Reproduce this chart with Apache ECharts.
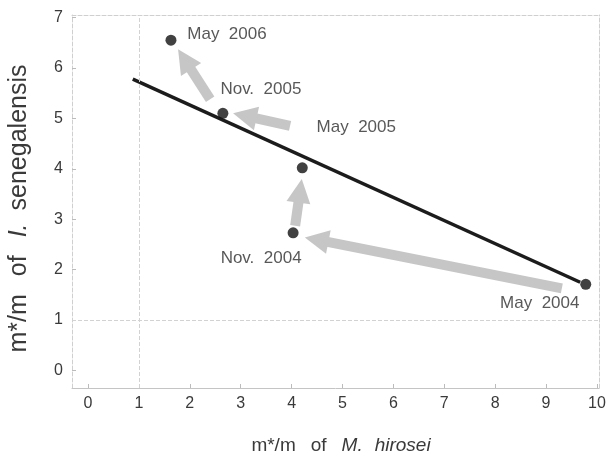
<!DOCTYPE html>
<html>
<head>
<meta charset="utf-8">
<script src="https://cdn.jsdelivr.net/npm/echarts@6/dist/echarts.min.js"></script>
<style>
html,body{margin:0;padding:0;background:#fff;}
#chart{width:608px;height:454px;}
</style>
</head>
<body>
<div id="chart"></div>
<script>
// ---- data ----
const sampleLabels = ['May  2004', 'Nov.  2004', 'May  2005', 'Nov.  2005', 'May  2006'];
const hiroseiX = [9.78, 4.03, 4.21, 2.65, 1.63];
const senegalensisY = [1.71, 2.73, 4.02, 5.10, 6.55];
const fitLineX = [0.88, 9.67];
const fitLineY = [5.78, 1.75];
const arrowTailX = [9.31, 4.07, 3.97, 2.40];
const arrowTailY = [1.63, 2.87, 4.85, 5.38];
const arrowHeadX = [4.26, 4.20, 2.85, 1.77];
const arrowHeadY = [2.64, 3.80, 5.10, 6.37];
const xTickValues = [0, 1, 2, 3, 4, 5, 6, 7, 8, 9, 10];
const yTickValues = [0, 1, 2, 3, 4, 5, 6, 7];

// ---- styles ----
const labelOffsets = [[-46, 19], [-32, 25], [54, -40], [38, -24], [56, -6]];
const FONT = '"Liberation Sans", Arial, sans-serif';
const frameLine = { color: '#cfcfcf', type: 'dashed', width: 1 };
const TXT = '#3a3a3a';
const ARROW = '#c6c6c6';
const HEAD_W = 24, HEAD_L = 24, SHAFT_INSET = 18;

const chart = echarts.init(document.getElementById('chart'));

const option = {
  animation: false,
  backgroundColor: '#fff',
  textStyle: { fontFamily: FONT },
  grid: { left: 72, right: 9, top: 15, bottom: 66, containLabel: false, outerBoundsMode: 'none' },
  xAxis: [
    {
      type: 'value', position: 'bottom', min: -0.3143, max: 10.04,
      axisLine: { show: true, onZero: false, lineStyle: { color: '#c4c4c4', width: 1 } },
      axisTick: { show: true, inside: true, length: 4, customValues: xTickValues, lineStyle: { color: '#bbb' } },
      axisLabel: { customValues: xTickValues, fontSize: 16, color: TXT, margin: 8, fontFamily: FONT },
      splitLine: { show: false },
      name: '{pad|}m*/m{g|}of{g|}{i|M.}{g2|}{i|hirosei}',
      nameLocation: 'middle', nameGap: 48,
      nameTextStyle: {
        fontSize: 19, color: TXT, fontFamily: FONT,
        rich: {
          i: { fontSize: 19, color: TXT, fontStyle: 'italic', fontFamily: FONT },
          g: { width: 15 },
          g2: { width: 12 },
          pad: { width: 11 }
        }
      }
    },
    {
      type: 'value', position: 'top', min: -0.3143, max: 10.04,
      axisLine: { show: true, onZero: false, lineStyle: frameLine },
      axisTick: { show: false }, axisLabel: { show: false }, splitLine: { show: false }
    }
  ],
  yAxis: [
    {
      type: 'value', position: 'left', min: -0.347, max: 7.05,
      axisLine: { show: true, onZero: false, lineStyle: frameLine },
      axisTick: { show: true, inside: true, length: 4, customValues: yTickValues, lineStyle: { color: '#bbb' } },
      axisLabel: { customValues: yTickValues, fontSize: 16, color: TXT, margin: 9, fontFamily: FONT },
      splitLine: { show: false },
      name: 'm*/m{g|}of{g|}{i|I.}{g2|}senegalensis{pad|}',
      nameLocation: 'middle', nameGap: 40, nameRotate: 90,
      nameTextStyle: {
        fontSize: 25, color: TXT, fontFamily: FONT,
        rich: {
          i: { fontSize: 25, color: TXT, fontStyle: 'italic', fontFamily: FONT },
          g: { width: 18 },
          g2: { width: 13 },
          pad: { width: 14 }
        }
      }
    },
    {
      type: 'value', position: 'right', min: -0.347, max: 7.05,
      axisLine: { show: true, onZero: false, lineStyle: frameLine },
      axisTick: { show: false }, axisLabel: { show: false }, splitLine: { show: false }
    }
  ],
  series: [
    {
      id: 'arrows',
      type: 'line',
      z: 2,
      silent: true,
      data: [],
      markLine: {
        silent: true,
        symbol: ['none', 'triangle'],
        symbolSize: 22,
        label: { show: false },
        lineStyle: { color: ARROW, width: 10, type: 'solid', opacity: 1, cap: 'butt' },
        itemStyle: { color: ARROW },
        data: []
      }
    },
    {
      type: 'line',
      z: 3,
      silent: true,
      symbol: 'none',
      lineStyle: { color: '#1c1c1c', width: 3.5 },
      data: fitLineX.map((x, i) => [x, fitLineY[i]])
    },
    {
      type: 'scatter',
      z: 4,
      symbolSize: 11,
      itemStyle: { color: '#111' },
      data: hiroseiX.map((x, i) => ({
        value: [x, senegalensisY[i]],
        name: sampleLabels[i],
        label: { offset: labelOffsets[i] }
      })),
      label: {
        show: true, position: 'inside', formatter: p => p.name,
        fontSize: 17, color: '#2e2e2e', fontFamily: FONT
      },
      markLine: {
        silent: true, symbol: 'none', label: { show: false },
        lineStyle: { color: '#d2d2d2', type: 'dashed', width: 1 },
        data: [{ xAxis: 1 }, { yAxis: 1 }]
      }
    }
  ]
};
chart.setOption(option);

// Arrow shafts stop a little short of the tip (via the chart's own scales) so the head stays sharp.
const arrowData = arrowTailX.map((tx, i) => {
  const tail = [tx, arrowTailY[i]];
  const head = [arrowHeadX[i], arrowHeadY[i]];
  const tp = chart.convertToPixel({ gridIndex: 0 }, tail);
  const hp = chart.convertToPixel({ gridIndex: 0 }, head);
  const dx = hp[0] - tp[0], dy = hp[1] - tp[1];
  const len = Math.hypot(dx, dy);
  const endPx = [hp[0] - dx / len * SHAFT_INSET, hp[1] - dy / len * SHAFT_INSET];
  const end = chart.convertFromPixel({ gridIndex: 0 }, endPx);
  return [
    { coord: tail, symbol: 'none' },
    { coord: end, symbol: 'triangle', symbolSize: [HEAD_W, HEAD_L], symbolOffset: [0, -(SHAFT_INSET - HEAD_L / 2)] }
  ];
});
chart.setOption({ series: [{ id: 'arrows', markLine: { data: arrowData } }] });
</script>
</body>
</html>
